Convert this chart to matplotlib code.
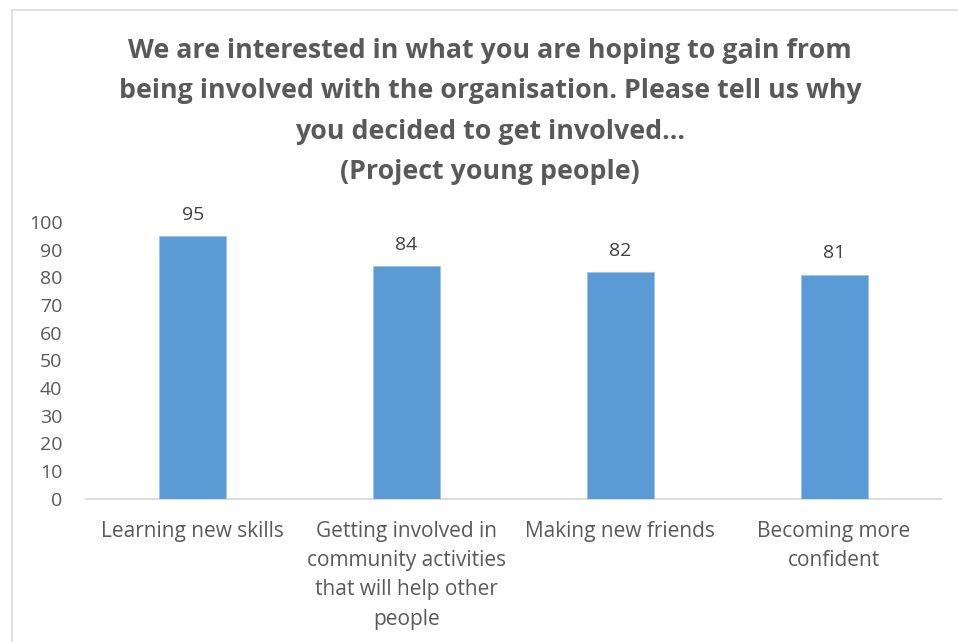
import matplotlib
matplotlib.use("Agg")
import matplotlib.pyplot as plt
from matplotlib.patches import Rectangle

categories = [
    "Learning new skills",
    "Getting involved in\ncommunity activities\nthat will help other\npeople",
    "Making new friends",
    "Becoming more\nconfident",
]
values = [95, 84, 82, 81]
yticks = [0, 10, 20, 30, 40, 50, 60, 70, 80, 90, 100]
title = ("We are interested in what you are hoping to gain from\n"
         "being involved with the organisation. Please tell us why\n"
         "you decided to get involved...\n"
         "(Project young people)")

plt.rcParams["font.family"] = ["Open Sans", "DejaVu Sans"]
W, H = 958, 642
fig = plt.figure(figsize=(W / 100, H / 100), dpi=100)

# chart border
fig.patches.append(Rectangle((12 / W, -0.1), 1.2, (H - 10) / H + 0.1,
                             transform=fig.transFigure, fill=False,
                             edgecolor="#d9d9d9", linewidth=1.2))

left, right = 86 / W, 941 / W
bottom, top = 1 - 498.5 / H, 1 - 222 / H
ax = fig.add_axes([left, bottom, right - left, top - bottom])

x = range(len(categories))
ax.bar(x, values, width=0.313, color="#5b9bd5", edgecolor="#9dc3e6", linewidth=0.6, zorder=3)
for xi, v in zip(x, values):
    ax.text(xi, v + 4.4, str(v), ha="center", va="bottom", fontsize=14, color="#404040")

ax.set_xlim(-0.5, len(categories) - 0.5)
ax.set_ylim(0, 100)
ax.set_yticks(yticks)
ax.set_yticklabels([str(t) for t in yticks])
ax.set_xticks(list(x))
ax.set_xticklabels(categories, fontsize=15, color="#595959", linespacing=1.52, va="top")
ax.tick_params(axis="x", length=0, pad=16)
ax.tick_params(axis="y", length=0, pad=17, labelsize=14, labelcolor="#595959")

for s in ["top", "right", "left"]:
    ax.spines[s].set_visible(False)
ax.spines["bottom"].set_color("#d9d9d9")
ax.spines["bottom"].set_linewidth(1.3)

fig.text(490 / W, 1 - 38 / H, title, ha="center", va="top", fontsize=19.3,
         fontweight="bold", color="#595959", linespacing=1.72)

fig.savefig("out.png", dpi=100, facecolor="white")
